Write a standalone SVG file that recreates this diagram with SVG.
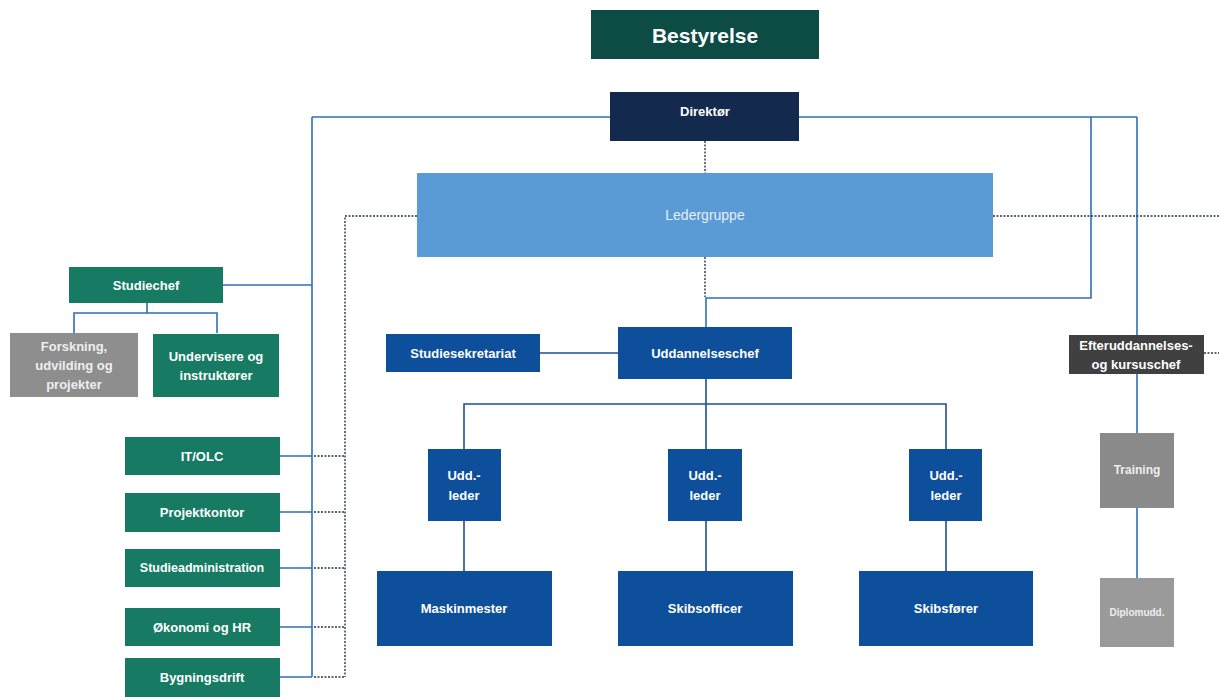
<svg xmlns="http://www.w3.org/2000/svg" width="1219" height="700" viewBox="0 0 1219 700">
<style>
.t{font-family:"Liberation Sans",Arial,sans-serif;font-weight:bold;fill:#ffffff;text-anchor:middle;dominant-baseline:central;font-size:13px}
.sol{stroke:#2f6fb8;stroke-width:1.6;fill:none}
.dk{stroke:#1f4f96}
.dot{stroke:#2b3448;stroke-width:1.4;stroke-dasharray:2 1.5;fill:none}
.blue{fill:#0d4f9a}
.green{fill:#177a62}
.gray{fill:#8e8e8e}
</style>
<rect width="1219" height="700" fill="#ffffff"/>
<g id="connectors">
<path class="sol" d="M312 117 H610 M799 117 H1137"/>
<path class="sol" d="M312 117 V677"/>
<path class="sol" d="M1091 117 V298 H706 V327"/>
<path class="sol" d="M1137 117 V335 M1137 374 V433 M1137 508 V578"/>
<path class="sol" d="M223 285 H312"/>
<path class="sol" d="M147 303 V313 M74 333 V313 H217 V333"/>
<path class="sol" d="M280 456 H312 M280 512 H312 M280 568 H312 M280 627 H312 M280 677 H312"/>
<path class="dot" d="M314 456 H345 M314 512 H345 M314 568 H345 M314 627 H345 M314 677 H345"/>
<path class="dot" d="M417 216 H345 V677"/>
<path class="dot" d="M705 141 V173 M705 257 V297"/>
<path class="dot" d="M993 216 H1219 M1204 353 H1219"/>
<path class="sol dk" d="M540 353 H618"/>
<path class="sol dk" d="M706 379 V449 M464 449 V404 H946 V449"/>
<path class="sol dk" d="M464 521 V571 M706 521 V571 M946 521 V571"/>
</g>
<g id="bestyrelse"><rect x="591" y="10" width="228" height="49" fill="#0c4c45"/><text class="t" x="705" y="35" style="font-size:21px">Bestyrelse</text></g>
<g id="direktor"><rect x="610" y="92" width="189" height="49" fill="#132a4e"/><text class="t" x="705" y="111">Direktør</text></g>
<g id="ledergruppe"><rect x="417" y="173" width="576" height="84" fill="#5b9bd5"/><text class="t" x="705" y="215" style="font-weight:normal;fill:#e4eef8;font-size:14px">Ledergruppe</text></g>
<g id="studiechef"><rect class="green" x="69" y="267" width="154" height="36"/><text class="t" x="146" y="285">Studiechef</text></g>
<g id="forskning"><rect class="gray" x="10" y="333" width="128" height="64"/><text class="t" x="74" y="346" style="fill:#eeeeee">Forskning,</text><text class="t" x="74" y="365" style="fill:#eeeeee">udvilding og</text><text class="t" x="74" y="384" style="fill:#eeeeee">projekter</text></g>
<g id="undervisere"><rect class="green" x="153" y="334" width="126" height="63"/><text class="t" x="216" y="356">Undervisere og</text><text class="t" x="216" y="375">instruktører</text></g>
<g id="it-olc"><rect class="green" x="125" y="437" width="155" height="38"/><text class="t" x="202" y="456">IT/OLC</text></g>
<g id="projektkontor"><rect class="green" x="125" y="493" width="155" height="39"/><text class="t" x="202" y="512">Projektkontor</text></g>
<g id="studieadministration"><rect class="green" x="125" y="549" width="155" height="38"/><text class="t" x="202" y="568" style="font-size:12.5px">Studieadministration</text></g>
<g id="okonomi"><rect class="green" x="125" y="608" width="155" height="38"/><text class="t" x="202" y="627">Økonomi og HR</text></g>
<g id="bygningsdrift"><rect class="green" x="125" y="658" width="155" height="39"/><text class="t" x="202" y="677">Bygningsdrift</text></g>
<g id="studiesekretariat"><rect class="blue" x="386" y="334" width="154" height="38"/><text class="t" x="463" y="353">Studiesekretariat</text></g>
<g id="uddannelseschef"><rect class="blue" x="618" y="327" width="174" height="52"/><text class="t" x="705" y="353">Uddannelseschef</text></g>
<g id="efteruddannelse"><rect x="1069" y="335" width="135" height="39" fill="#404040"/><text class="t" x="1136" y="345">Efteruddannelses-</text><text class="t" x="1136" y="364">og kursuschef</text></g>
<g id="training"><rect x="1100" y="433" width="74" height="75" fill="#8a8a8a"/><text class="t" x="1137" y="470" style="font-size:12px;fill:#eeeeee">Training</text></g>
<g id="diplomudd"><rect x="1100" y="578" width="74" height="69" fill="#9a9a9a"/><text class="t" x="1137" y="612" style="font-size:10px;fill:#eeeeee">Diplomudd.</text></g>
<g id="uddleder1"><rect class="blue" x="428" y="449" width="73" height="72"/><text class="t" x="464" y="475">Udd.-</text><text class="t" x="464" y="495">leder</text></g>
<g id="uddleder2"><rect class="blue" x="668" y="449" width="74" height="72"/><text class="t" x="705" y="475">Udd.-</text><text class="t" x="705" y="495">leder</text></g>
<g id="uddleder3"><rect class="blue" x="909" y="449" width="73" height="72"/><text class="t" x="946" y="475">Udd.-</text><text class="t" x="946" y="495">leder</text></g>
<g id="maskinmester"><rect class="blue" x="377" y="571" width="175" height="75"/><text class="t" x="464" y="608">Maskinmester</text></g>
<g id="skibsofficer"><rect class="blue" x="618" y="571" width="175" height="75"/><text class="t" x="705" y="608">Skibsofficer</text></g>
<g id="skibsforer"><rect class="blue" x="859" y="571" width="174" height="75"/><text class="t" x="946" y="608">Skibsfører</text></g>
</svg>
